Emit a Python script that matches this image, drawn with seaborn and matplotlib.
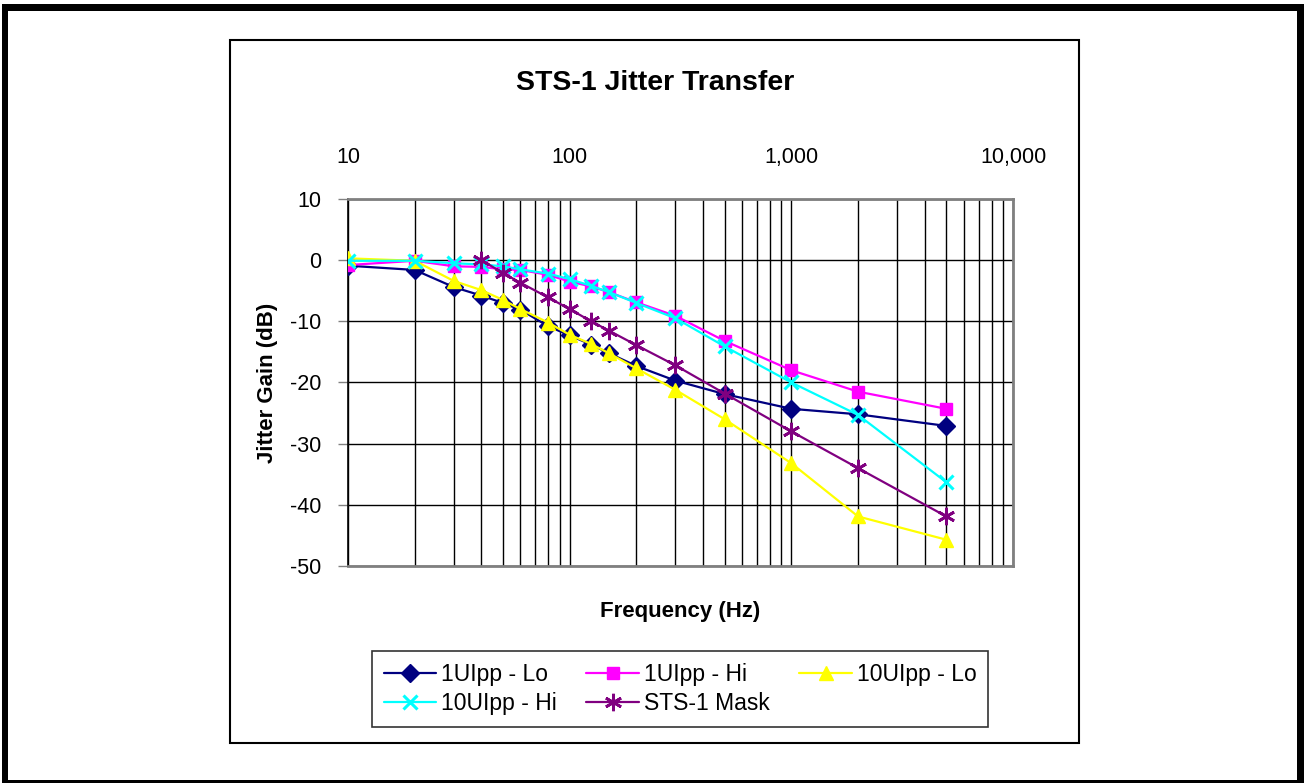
import matplotlib
matplotlib.use('agg')
import matplotlib.pyplot as plt
import seaborn as sns
from matplotlib.patches import Rectangle
from matplotlib.ticker import FixedLocator, LogLocator, NullFormatter

# frequencies (Hz)
freq = [10, 20, 30, 40, 50, 60, 80, 100, 125, 150, 200, 300, 500, 1000, 2000, 5000]
freq_mask = [40, 50, 60, 80, 100, 125, 150, 200, 300, 500, 1000, 2000, 5000]

# jitter gain (dB)
lo_1ui = [-0.9, -1.6, -4.4, -5.8, -7.0, -8.1, -10.8, -12.3, -13.8, -15.2, -17.3, -19.7, -21.9, -24.3, -25.2, -27.1]
hi_1ui = [-0.8, -0.1, -1.0, -1.1, -1.5, -1.6, -2.4, -3.5, -4.3, -5.2, -6.9, -9.1, -13.2, -18.0, -21.5, -24.3]
lo_10ui = [0.3, -0.1, -3.4, -4.9, -6.5, -8.0, -10.2, -12.2, -13.7, -15.2, -17.7, -21.2, -26.0, -33.2, -41.9, -45.7]
hi_10ui = [-0.1, -0.1, -0.5, -0.7, -1.0, -1.5, -2.2, -3.1, -4.2, -5.2, -7.0, -9.5, -14.1, -20.0, -25.3, -36.3]
mask = [0.0, -2.1, -3.7, -6.1, -8.0, -10.0, -11.5, -13.9, -17.2, -21.8, -28.0, -34.0, -41.9]

labels = ['1UIpp - Lo', '1UIpp - Hi', '10UIpp - Lo', '10UIpp - Hi', 'STS-1 Mask']
colors = ['#000080', '#FF00FF', '#FFFF00', '#00FFFF', '#800080']
yticks = [10, 0, -10, -20, -30, -40, -50]
xtick_labels = ['10', '100', '1,000', '10,000']

sns.set_style('white')
plt.rcParams['font.family'] = ['Liberation Sans', 'DejaVu Sans']
plt.rcParams['text.color'] = 'black'
plt.rcParams['xtick.color'] = 'black'
plt.rcParams['ytick.color'] = 'black'

W, H = 1304, 783
fig = plt.figure(figsize=(W / 100, H / 100), dpi=100)
ax = fig.add_axes([348 / W, 1 - 566 / H, 665 / W, 367 / H])

series = [
	(freq, lo_1ui, 'D', 9, 1),
	(freq, hi_1ui, 's', 9, 1),
	(freq, lo_10ui, '^', 10.5, 1),
	(freq, hi_10ui, 'x', 10, 2.2),
	(freq_mask, mask, (6, 2, 0), 12.5, 2),
]
handles = []
for (x, y, m, ms, mew), lab, c in zip(series, labels, colors):
	sns.lineplot(x=x, y=y, ax=ax, color=c, marker=m, markersize=ms, markeredgewidth=mew,
		markeredgecolor=c, linewidth=1.6, label=lab, zorder=3)
	handles.append(ax.lines[-1])

ax.set_xscale('log')
ax.set_xlim(10, 10000)
ax.set_ylim(-50, 10)
ax.set_yticks(yticks)
ax.set_yticklabels([str(v) for v in yticks], fontsize=15.5)
ax.xaxis.set_major_locator(FixedLocator([10, 100, 1000, 10000]))
ax.xaxis.set_minor_locator(LogLocator(base=10, subs=range(2, 10)))
ax.xaxis.set_minor_formatter(NullFormatter())
ax.set_xticklabels(xtick_labels, fontsize=15.5)
ax.xaxis.tick_top()
ax.tick_params(axis='x', which='major', length=0, pad=22)
ax.tick_params(axis='x', which='minor', length=0)
ax.tick_params(axis='y', length=7, width=1, color='#808080', pad=12, left=True)
ax.grid(True, which='both', axis='x', color='black', linewidth=1)
ax.grid(True, which='major', axis='y', color='black', linewidth=1)
ax.set_axisbelow(True)
for side in ['top', 'bottom', 'right']:
	ax.spines[side].set_color('#808080')
	ax.spines[side].set_linewidth(2)
ax.spines['left'].set_color('black')
ax.spines['left'].set_linewidth(1.2)
ax.set_xlabel('')
ax.set_ylabel('')

if ax.get_legend() is not None:
	ax.get_legend().remove()
order = [0, 3, 1, 4, 2]
leg = fig.legend([handles[i] for i in order], [labels[i] for i in order], loc='center',
	bbox_to_anchor=(680 / W, 1 - 689 / H), ncol=3, fontsize=16.5, frameon=True, fancybox=False,
	edgecolor='black', handlelength=2.3, handletextpad=0.2, columnspacing=1.3, labelspacing=0.3,
	borderpad=0.5, borderaxespad=0)
leg.get_frame().set_linewidth(1.2)

fig.text(655 / W, 1 - 83 / H, 'STS-1 Jitter Transfer', ha='center', va='center', fontsize=20.5, fontweight='bold')
fig.text(268 / W, 1 - 383 / H, 'Jitter Gain (dB)', ha='center', va='center', rotation=90, fontsize=16, fontweight='bold')
fig.text(680 / W, 1 - 611 / H, 'Frequency (Hz)', ha='center', va='center', fontsize=16, fontweight='bold')

# chart area box
fig.add_artist(Rectangle((230 / W, 1 - 743 / H), 849 / W, 703 / H, transform=fig.transFigure,
	fill=False, edgecolor='black', linewidth=1.5))
# thick outer frame
for (x0, y0, w, h) in [(2, 4, 1302, 7), (2, 4, 6, 779), (1297, 4, 7, 779), (2, 780, 1302, 3)]:
	fig.add_artist(Rectangle((x0 / W, 1 - (y0 + h) / H), w / W, h / H, transform=fig.transFigure,
		facecolor='black', edgecolor='none'))

fig.savefig('out.png', dpi=100)
plt.close()
